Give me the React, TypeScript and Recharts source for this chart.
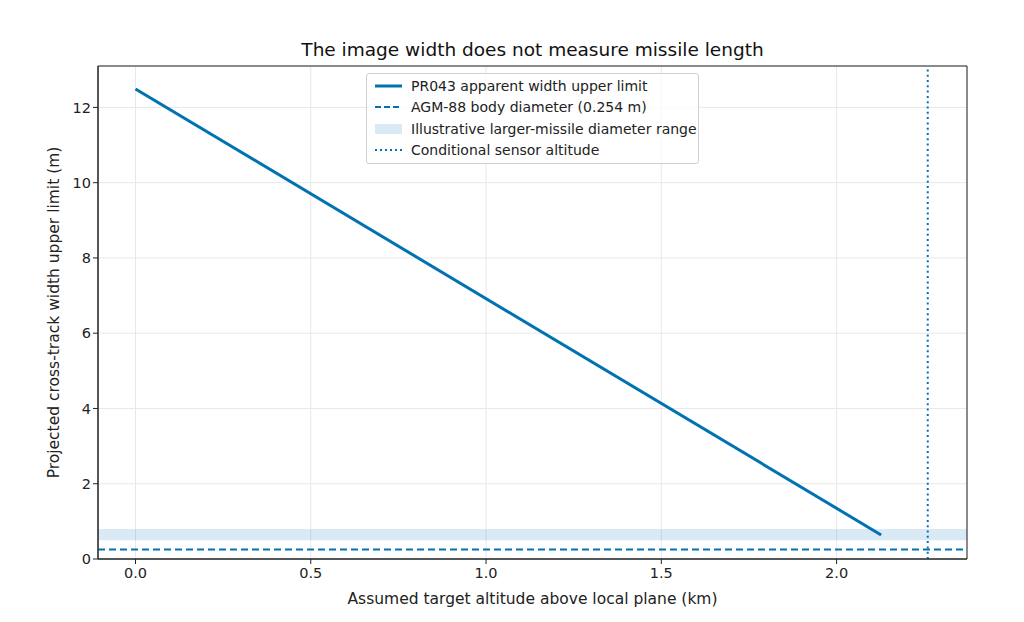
import React from 'react';
import {
    ComposedChart,
    Line,
    XAxis,
    YAxis,
    CartesianGrid,
    ReferenceArea,
    ReferenceLine,
} from 'recharts';

const altitudeKm = [0, 2.127];
const widthUpperLimit = [12.49, 0.64];

const xTicks = [0, 0.5, 1.0, 1.5, 2.0];
const yTicks = [0, 2, 4, 6, 8, 10, 12];

const agmDiameter = 0.254;
const largerMissileRange = [0.5, 0.8];
const sensorAltitude = 2.26;

const xDomain = [-0.107, 2.372];
const yDomain = [0, 13.1];

const BLUE = '#0072B2';
const FONT = '"DejaVu Sans", sans-serif';

const data = altitudeKm.map((x, i) => ({ x, width: widthUpperLimit[i] }));

const legendItems = [
    { label: 'PR043 apparent width upper limit', kind: 'solid' },
    { label: 'AGM-88 body diameter (0.254 m)', kind: 'dashed' },
    { label: 'Illustrative larger-missile diameter range', kind: 'band' },
    { label: 'Conditional sensor altitude', kind: 'dotted' },
];

const LegendBox = () => (
    <div
        style={{
            position: 'absolute',
            top: 73,
            left: 366,
            width: 333,
            boxSizing: 'border-box',
            background: 'rgba(255,255,255,0.8)',
            border: '1px solid #d0d0d0',
            borderRadius: 3,
            padding: '1px 7px 2px 8px',
            fontFamily: FONT,
            fontSize: 14,
            color: '#222',
            zIndex: 2,
            whiteSpace: 'nowrap',
        }}
    >
        {legendItems.map((item) => (
            <div key={item.label} style={{ display: 'flex', alignItems: 'center', height: 21.5 }}>
                <svg width={27} height={10} style={{ marginRight: 9, flexShrink: 0 }}>
                    {item.kind === 'band' ? (
                        <rect x={0} y={0} width={27} height={10} fill={BLUE} fillOpacity={0.15} />
                    ) : (
                        <line
                            x1={0}
                            x2={27}
                            y1={5}
                            y2={5}
                            stroke={BLUE}
                            strokeWidth={item.kind === 'solid' ? 3 : 2}
                            strokeDasharray={item.kind === 'dashed' ? '6 3' : item.kind === 'dotted' ? '2 3' : undefined}
                        />
                    )}
                </svg>
                <span>{item.label}</span>
            </div>
        ))}
    </div>
);

export default function App() {
    return (
        <div style={{ position: 'absolute', left: 0, top: 0, width: 1024, height: 622, background: '#fff' }}>
            <div
                style={{
                    position: 'absolute',
                    top: 38,
                    left: 98,
                    width: 869,
                    textAlign: 'center',
                    fontFamily: FONT,
                    fontSize: 18.5,
                    lineHeight: '24px',
                    color: '#111',
                }}
            >
                The image width does not measure missile length
            </div>
            <ComposedChart
                width={1024}
                height={622}
                data={data}
                margin={{ top: 66, right: 57, bottom: 13, left: 38 }}
            >
                <CartesianGrid stroke="#e8e8e8" strokeWidth={1} />
                <XAxis
                    dataKey="x"
                    type="number"
                    domain={xDomain}
                    ticks={xTicks}
                    allowDataOverflow
                    tickFormatter={(v) => v.toFixed(1)}
                    height={50}
                    tick={{ fontFamily: FONT, fontSize: 14.5, fill: '#222' }}
                    tickSize={5}
                    tickMargin={4}
                    tickLine={{ stroke: '#222' }}
                    axisLine={{ stroke: '#222' }}
                    label={{
                        value: 'Assumed target altitude above local plane (km)',
                        position: 'insideBottom',
                        offset: 5,
                        style: { fontFamily: FONT, fontSize: 15.5, fill: '#222' },
                    }}
                />
                <YAxis
                    type="number"
                    domain={yDomain}
                    ticks={yTicks}
                    allowDataOverflow
                    width={60}
                    tick={{ fontFamily: FONT, fontSize: 14.5, fill: '#222' }}
                    tickSize={5}
                    tickLine={{ stroke: '#222' }}
                    axisLine={{ stroke: '#222' }}
                    label={{
                        value: 'Projected cross-track width upper limit (m)',
                        angle: -90,
                        position: 'insideLeft',
                        offset: 15,
                        style: { fontFamily: FONT, fontSize: 15.5, fill: '#222', textAnchor: 'middle' },
                    }}
                />
                <ReferenceArea
                    y1={largerMissileRange[0]}
                    y2={largerMissileRange[1]}
                    x1={xDomain[0]}
                    x2={xDomain[1]}
                    fill={BLUE}
                    fillOpacity={0.15}
                    stroke="none"
                />
                <ReferenceLine y={agmDiameter} stroke={BLUE} strokeWidth={2} strokeDasharray="7 4" />
                <ReferenceLine x={sensorAltitude} stroke={BLUE} strokeWidth={2} strokeDasharray="2 3.3" />
                <Line
                    dataKey="width"
                    stroke={BLUE}
                    strokeWidth={3}
                    dot={false}
                    isAnimationActive={false}
                />
                <ReferenceArea
                    x1={xDomain[0]}
                    x2={xDomain[1]}
                    y1={yDomain[0]}
                    y2={yDomain[1]}
                    fill="none"
                    stroke="#222"
                    strokeWidth={1}
                />
            </ComposedChart>
            <LegendBox />
        </div>
    );
}
